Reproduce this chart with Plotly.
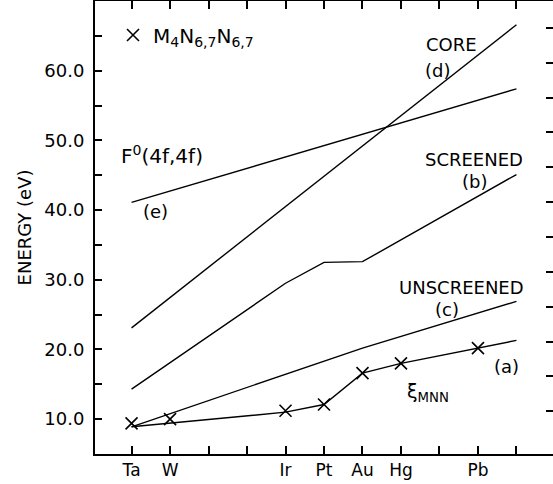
import plotly.graph_objects as go

# ---- data ----
elements = ["Ta", "W", "Ir", "Pt", "Au", "Hg", "Pb"]
element_z = [73, 74, 77, 78, 79, 80, 82]
measured = [9.4, 10.0, 11.2, 12.1, 16.6, 18.0, 20.2]   # x markers, M4N67N67

xi_x = [73, 77, 78, 79, 80, 82, 83]
xi_y = [8.9, 11.0, 12.1, 16.6, 18.0, 20.2, 21.3]        # (a) xi_MNN

screened_x = [73, 77, 78, 79, 83]
screened_y = [14.3, 29.5, 32.5, 32.6, 45.1]             # (b)

unscreened_x = [73, 79, 83]
unscreened_y = [8.9, 20.2, 26.9]                        # (c)

core_x = [73, 83]
core_y = [23.1, 66.6]                                   # (d)

f0_x = [73, 83]
f0_y = [41.1, 57.4]                                     # (e) F0(4f,4f)

xtick_vals = [73, 74, 75, 76, 77, 78, 79, 80, 81, 82, 83]
xtick_text = ["Ta", "W", " ", " ", "Ir", "Pt", "Au", "Hg", " ", "Pb", " "]
ytick_vals = [10, 15, 20, 25, 30, 35, 40, 45, 50, 55, 60, 65]
ytick_text = ["10.0", " ", "20.0", " ", "30.0", " ", "40.0", " ", "50.0", " ", "60.0", " "]

FONT = "DejaVu Sans"
line_style = dict(color="black", width=1.4)

fig = go.Figure()
for xs, ys in [(xi_x, xi_y), (screened_x, screened_y), (unscreened_x, unscreened_y),
               (core_x, core_y), (f0_x, f0_y)]:
    fig.add_trace(go.Scatter(x=xs, y=ys, mode="lines", line=line_style,
                             showlegend=False, hoverinfo="skip"))

fig.add_trace(go.Scatter(
    x=element_z, y=measured, mode="markers",
    marker=dict(symbol="x-thin", size=12, line=dict(color="black", width=1.6), color="black"),
    name="M<sub>4</sub>N<sub>6,7</sub>N<sub>6,7</sub>", showlegend=True))

# helper trace for the right-hand tick axis
fig.add_trace(go.Scatter(x=[], y=[], yaxis="y2", showlegend=False))

ann_font = dict(family=FONT, size=18, color="black")
annotations = [
    dict(x=81.30, y=63.69, text="CORE"),
    dict(x=80.96, y=60.10, text="(d)"),
    dict(x=81.89, y=47.19, text="SCREENED"),
    dict(x=81.92, y=44.17, text="(b)"),
    dict(x=81.58, y=28.82, text="UNSCREENED"),
    dict(x=81.19, y=25.67, text="(c)"),
    dict(x=82.73, y=17.49, text="(a)"),
    dict(x=73.61, y=39.73, text="(e)"),
]
for a in annotations:
    fig.add_annotation(x=a["x"], y=a["y"], text=a["text"], showarrow=False,
                       xanchor="center", yanchor="middle", font=ann_font)
fig.add_annotation(x=73.79, y=47.9, text="F<sup>0</sup>(4f,4f)", showarrow=False,
                   xanchor="center", yanchor="middle",
                   font=dict(family=FONT, size=20, color="black"))
fig.add_annotation(x=80.10, y=13.76, text="ξ<sub>MNN</sub>", showarrow=False,
                   xanchor="left", yanchor="middle",
                   font=dict(family=FONT, size=19, color="black"))

fig.update_layout(
    width=553, height=484,
    margin=dict(l=95, r=0, t=1, b=30),
    paper_bgcolor="white", plot_bgcolor="white",
    font=dict(family=FONT, color="black"),
    showlegend=True,
    legend=dict(x=(113 - 95) / 458, y=(454 - 35) / 453, xanchor="left", yanchor="middle",
                bgcolor="rgba(0,0,0,0)", font=dict(family=FONT, size=20, color="black")),
    xaxis=dict(range=[72.05, 83.95], tickvals=xtick_vals, ticktext=xtick_text,
               ticks="inside", ticklen=8, tickwidth=1.5, tickcolor="black",
               showline=True, linewidth=2, linecolor="black", mirror="ticks",
               showgrid=False, zeroline=False,
               tickfont=dict(family=FONT, size=17, color="black")),
    yaxis=dict(range=[5, 70], tickvals=ytick_vals, ticktext=ytick_text,
               ticks="inside", ticklen=7, tickwidth=1.5, tickcolor="black",
               ticklabelstandoff=5,
               showline=True, linewidth=2, linecolor="black", mirror=False,
               showgrid=False, zeroline=False,
               tickfont=dict(family=FONT, size=18, color="black"),
               title=dict(text="ENERGY (eV)", standoff=8,
                          font=dict(family=FONT, size=18, color="black"))),
    yaxis2=dict(range=[3.86, 68.86], overlaying="y", side="right",
                tickvals=ytick_vals, showticklabels=False,
                ticks="inside", ticklen=7, tickwidth=1.5, tickcolor="black",
                showline=False, showgrid=False, zeroline=False),
)

fig.write_html("out.html", config={"displayModeBar": False},
               post_script="document.body.style.margin='0px';document.body.style.padding='0px';")
